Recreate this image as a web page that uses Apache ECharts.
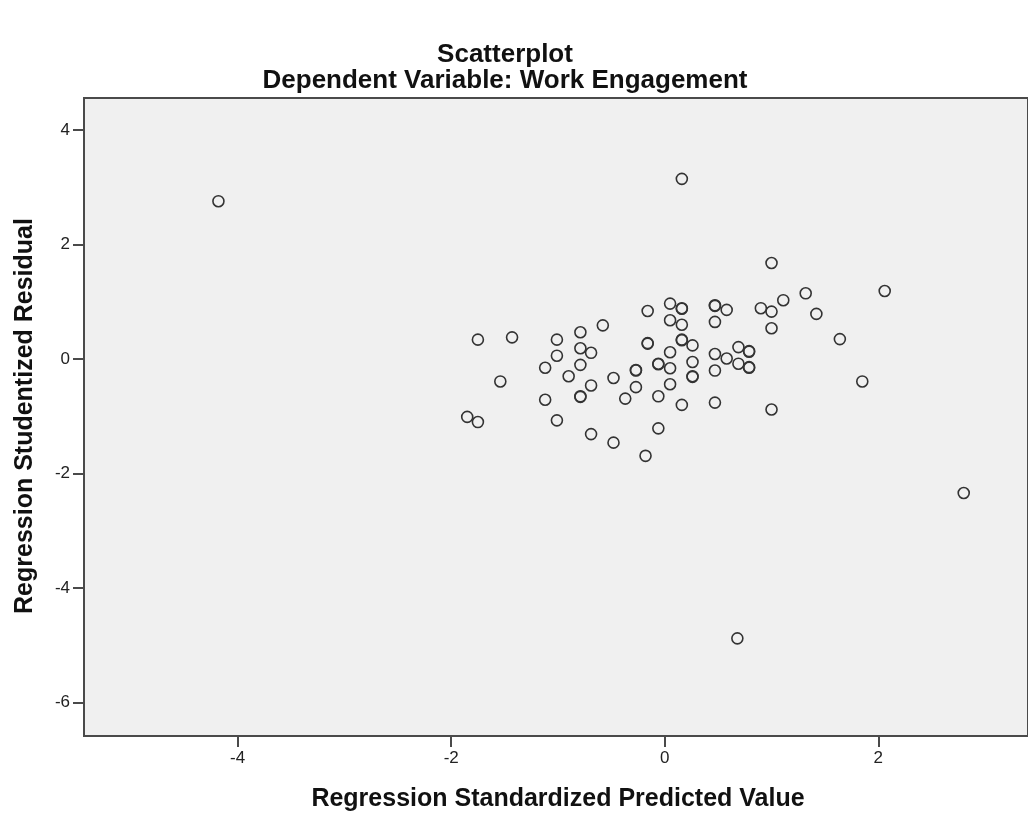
<!DOCTYPE html>
<html>
<head>
<meta charset="utf-8">
<script src="https://cdn.jsdelivr.net/npm/echarts@6/dist/echarts.min.js"></script>
<style>
html,body{margin:0;padding:0;background:#fff;}
#chart{width:1028px;height:814px;}
</style>
</head>
<body>
<div id="chart"></div>
<script>
// Regression Standardized Predicted Value (x) and Studentized Residual (y)
const predicted = [
  -4.18, 0.16, 1.00, 2.06, 1.32, 1.11, 1.42, 1.00, 0.90, 1.00,
  1.64, 1.85, 1.00, 2.80, 0.68, -0.58, -0.16, 0.05, 0.16, 0.16,
  0.05, 0.16, 0.47, 0.47, 0.58, 0.47, -0.16, -0.16, 0.16, 0.16,
  0.26, 0.05, 0.26, -0.06, -0.06, 0.05, -0.27, -0.27, 0.26, 0.26,
  -0.48, -0.27, 0.05, -0.37, -0.06, 0.16, 0.47, 0.58, 0.69, 0.79,
  0.79, 0.69, 0.79, 0.79, 0.47, 0.47, -0.06, -0.48, -1.75, -1.43,
  -1.01, -0.79, -0.79, -0.69, -1.01, -0.79, -1.12, -0.90, -1.54, -0.69,
  -0.79, -0.79, -1.12, -1.85, -1.75, -1.01, -0.69, -0.18
];
const residual = [
  2.76, 3.15, 1.68, 1.19, 1.15, 1.03, 0.79, 0.83, 0.89, 0.54,
  0.35, -0.39, -0.88, -2.34, -4.88, 0.59, 0.84, 0.97, 0.88, 0.89,
  0.68, 0.60, 0.93, 0.94, 0.86, 0.65, 0.27, 0.28, 0.33, 0.34,
  0.24, 0.12, -0.05, -0.09, -0.08, -0.16, -0.20, -0.19, -0.31, -0.30,
  -0.33, -0.49, -0.44, -0.69, -0.65, -0.80, 0.09, 0.01, 0.21, 0.13,
  0.14, -0.08, -0.15, -0.14, -0.20, -0.76, -1.21, -1.46, 0.34, 0.38,
  0.34, 0.47, 0.19, 0.11, 0.06, -0.10, -0.15, -0.30, -0.39, -0.46,
  -0.66, -0.65, -0.71, -1.01, -1.10, -1.07, -1.31, -1.69
];
const xTickValues = [-4, -2, 0, 2];
const yTickValues = [-6, -4, -2, 0, 2, 4];
const titleText = 'Scatterplot';
const subtitleText = 'Dependent Variable: Work Engagement';
const xAxisTitle = 'Regression Standardized Predicted Value';
const yAxisTitle = 'Regression Studentized Residual';

const points = predicted.map((x, i) => [x, residual[i]]);
const FONT = '"Liberation Sans", Arial, sans-serif';

const chart = echarts.init(document.getElementById('chart'));
chart.setOption({
  backgroundColor: '#ffffff',
  animation: false,
  grid: {
    left: 84, top: 98, right: -2, bottom: 78,
    show: true, backgroundColor: '#f0f0f0',
    borderColor: '#4a4a4a', borderWidth: 2
  },
  xAxis: {
    type: 'value', min: -5.439, max: 3.402, position: 'bottom',
    splitLine: {show: false},
    axisLine: {show: false, onZero: false},
    axisTick: {show: true, length: 11, inside: false, customValues: xTickValues,
      lineStyle: {color: '#4a4a4a', width: 2}},
    axisLabel: {show: true, customValues: xTickValues, margin: 14,
      color: '#222', fontSize: 17, fontFamily: FONT}
  },
  yAxis: {
    type: 'value', min: -6.586, max: 4.563, position: 'left',
    splitLine: {show: false},
    axisLine: {show: false, onZero: false},
    axisTick: {show: true, length: 11, inside: false, customValues: yTickValues,
      lineStyle: {color: '#4a4a4a', width: 2}},
    axisLabel: {show: true, customValues: yTickValues, margin: 14,
      color: '#222', fontSize: 17, fontFamily: FONT}
  },
  graphic: [
    {type: 'text', x: 505, y: 55,
      style: {text: titleText, font: 'bold 26px ' + FONT, fill: '#111',
        textAlign: 'center', textVerticalAlign: 'middle'}},
    {type: 'text', x: 505, y: 81,
      style: {text: subtitleText, font: 'bold 26px ' + FONT, fill: '#111',
        textAlign: 'center', textVerticalAlign: 'middle'}},
    {type: 'text', x: 558, y: 799,
      style: {text: xAxisTitle, font: 'bold 25px ' + FONT, fill: '#111',
        textAlign: 'center', textVerticalAlign: 'middle'}},
    {type: 'text', rotation: Math.PI / 2, x: 25, y: 416,
      style: {text: yAxisTitle, font: 'bold 25px ' + FONT, fill: '#111',
        textAlign: 'center', textVerticalAlign: 'middle'}}
  ],
  series: [{
    type: 'scatter',
    data: points,
    symbol: 'circle',
    symbolSize: 11,
    itemStyle: {color: 'rgba(0,0,0,0)', borderColor: '#333', borderWidth: 1.6, opacity: 1}
  }]
});
</script>
</body>
</html>
